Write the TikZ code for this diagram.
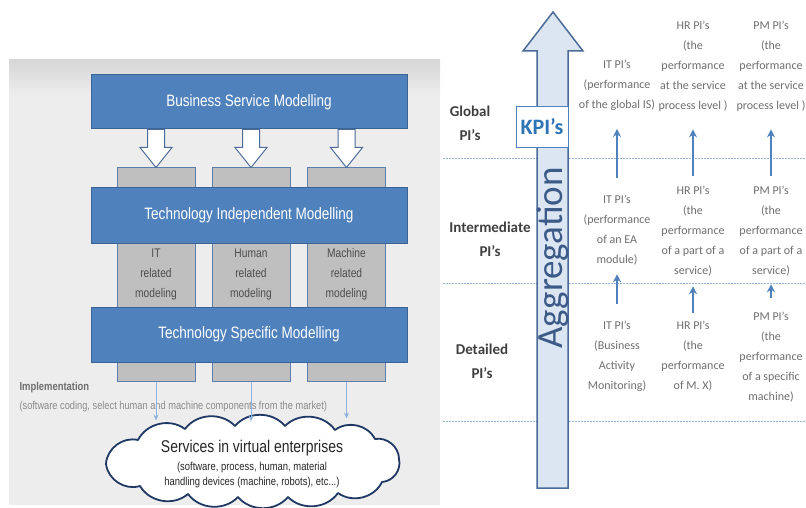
\documentclass[tikz,border=0pt]{standalone}
\usepackage{fontspec}
\setmainfont{Carlito}
\newfontfamily\narrowfont[FakeStretch=0.82]{Liberation Sans}
\usetikzlibrary{calc,arrows.meta}
\definecolor{boxblue}{HTML}{4F81BD}
\definecolor{boxline}{HTML}{3A6496}
\definecolor{colgray}{HTML}{BFBFBF}
\definecolor{colline}{HTML}{5C7EAE}
\definecolor{panelgray}{HTML}{EDEDED}
\definecolor{paneltop}{HTML}{D6D6D6}
\definecolor{thinblue}{HTML}{8DB3E2}
\definecolor{cloudline}{HTML}{1F3864}
\definecolor{aggfill}{HTML}{DCE6F2}
\definecolor{aggline}{HTML}{4A6A97}
\definecolor{aggtextcol}{HTML}{3C5A88}
\definecolor{kpiblue}{HTML}{2E75B6}
\definecolor{dotblue}{HTML}{95B3D7}
\definecolor{pigray}{HTML}{6E6E6E}
\definecolor{coltext}{HTML}{4D4D4D}
\definecolor{levelgray}{HTML}{3F3F3F}
\newcommand{\arrowcolor}{boxblue}
\newcommand{\outline}{1pt}
\newcommand{\puff}{50}
\tikzset{downblock/.pic={
\draw[draw=aggline,fill=white,line width=\outline] (-8.5,0) -- (-8.5,18) -- (-16,18) -- (0,38) -- (16,18) -- (8.5,18) -- (8.5,0) -- cycle;
}}

\begin{document}
\begin{tikzpicture}[x=1pt,y=-1pt,
bluebox/.style={draw=boxline,fill=boxblue,line width=\outline,minimum width=316,text=white,font=\narrowfont\fontsize{16.5}{19}\selectfont},
column/.style={draw=colline,fill=colgray,line width=\outline,minimum width=78,minimum height=213,align=center,text=coltext,font=\narrowfont\fontsize{12.5}{20}\selectfont},
thinarrow/.style={draw=thinblue,line width=\outline,-{Stealth[length=6pt,width=5pt]}},
dotline/.style={draw=dotblue,line width=1pt,dash pattern=on 1.5pt off 1.5pt},
leveltext/.style={align=center,text=levelgray,font=\bfseries\fontsize{15}{24}\selectfont},
pitext/.style={align=center,text=pigray,inner sep=0pt,font=\fontsize{12}{20}\selectfont},
piarrow/.style={draw=\arrowcolor,line width=2pt,-{Stealth[length=8pt,width=8pt]}}]
\useasboundingbox (0,0) rectangle (806,508);
%left panel
\fill[panelgray] (9,60) rectangle (440,505);
\shade[top color=paneltop,bottom color=panelgray] (9,60) rectangle (440,95);
\node[column] (col1) at (156,274.5) {IT\\related\\modeling};
\node[column] (col2) at (251,274.5) {Human\\related\\modeling};
\node[column] (col3) at (346.5,274.5) {Machine\\related\\modeling};
\node[bluebox,minimum height=54] (bsm) at (249,102) {Business Service Modelling};
\node[bluebox,minimum height=56] (tim) at (249,215) {Technology Independent Modelling};
\node[bluebox,minimum height=55] (tsm) at (249,334.5) {Technology Specific Modelling};
\path (col1.north |- bsm.south) pic {downblock};
\path (col2.north |- bsm.south) pic {downblock};
\path (col3.north |- bsm.south) pic {downblock};
\node[anchor=west,text=pigray,font=\narrowfont\bfseries\fontsize{11.5}{14}\selectfont] (impl) at (16,388) {Implementation};
\node[anchor=west,text=pigray!80,font=\narrowfont\fontsize{11.3}{14}\selectfont] (impldesc) at (16,407) {(software coding, select human and machine components from the market)};
%cloud
\draw[draw=cloudline,fill=white,line width=1.8pt,line join=round] (106,464) to[bend left=\puff] (138,440) to[bend left=\puff] (185,429) to[bend left=\puff] (235,426) to[bend left=\puff] (285,426) to[bend left=\puff] (335,430) to[bend left=\puff] (375,439) to[bend left=\puff] (399,459) to[bend left=\puff] (382,482) to[bend left=\puff] (338,493) to[bend left=\puff] (288,497) to[bend left=\puff] (238,497) to[bend left=\puff] (188,494) to[bend left=\puff] (140,486) to[bend left=\puff] (106,464);
\node[align=center,text=black!85,font=\narrowfont\fontsize{11.5}{15}\selectfont] (ctext) at (252,464) {{\fontsize{17}{20}\selectfont Services in virtual enterprises}\\[3pt](software, process, human, material\\handling devices (machine, robots), etc...)};
\draw[thinarrow] (col1.south) -- ++(0,39);
\draw[thinarrow] (col2.south) -- ++(0,40);
\draw[thinarrow] (col3.south) -- ++(0,37);
%right panel
\draw[dotline] (443,159) -- (806,159);
\draw[dotline] (443,283) -- (806,283);
\draw[dotline] (443,421) -- (806,421);
\draw[draw=aggline,fill=aggfill,line width=1.5pt,line join=miter] (537,488) -- (537,51) -- (523,51) -- (553,12) -- (583,51) -- (568,51) -- (568,488) -- cycle;
\node[rotate=90,text=aggtextcol,font=\fontsize{37}{40}\selectfont] (agg) at (553,258) {Aggregation};
\node[draw=boxblue,fill=white,line width=\outline,minimum width=52,minimum height=41,text=kpiblue,font=\bfseries\fontsize{22}{24}\selectfont] (kpi) at (542,127) {KPI’s};
\node[leveltext] (glob) at (470,123) {Global\\PI’s};
\node[leveltext] (inter) at (490,239) {Intermediate\\PI’s};
\node[leveltext] (det) at (482,361) {Detailed\\PI’s};
%global
\node[pitext] (itG) at (617,85.5) {IT PI’s\\(performance\\of the global IS)};
\node[pitext] (hrG) at (693,66) {HR PI’s\\(the\\performance\\at the service\\process level )};
\node[pitext] (pmG) at (771,66) {PM PI’s\\(the\\performance\\at the service\\process level )};
%intermediate
\node[pitext] (itM) at (617,230) {IT PI’s\\(performance\\of an EA\\module)};
\node[pitext] (hrM) at (693,231) {HR PI’s\\(the\\performance\\of a part of a\\service)};
\node[pitext] (pmM) at (771,231) {PM PI’s\\(the\\performance\\of a part of a\\service)};
%detailed
\node[pitext] (itD) at (617,356) {IT PI’s\\(Business\\Activity\\Monitoring)};
\node[pitext] (hrD) at (693,356) {HR PI’s\\(the\\performance\\of M. X)};
\node[pitext] (pmD) at (771,357) {PM PI’s\\(the\\performance\\of a specific\\machine)};
\draw[piarrow,shorten <=17pt,shorten >=18pt] (itM.north) -- (itG.south);
\draw[piarrow,shorten <=10pt,shorten >=18pt] (hrM.north) -- (hrG.south);
\draw[piarrow,shorten <=10pt,shorten >=18pt] (pmM.north) -- (pmG.south);
\draw[piarrow,shorten <=17pt,shorten >=9pt] (itD.north) -- (itM.south);
\draw[piarrow,shorten <=8pt,shorten >=10pt] (hrD.north) -- (hrM.south);
\draw[piarrow,shorten <=14pt,shorten >=8pt] (pmD.north) -- (pmM.south);
\end{tikzpicture}
\end{document}
